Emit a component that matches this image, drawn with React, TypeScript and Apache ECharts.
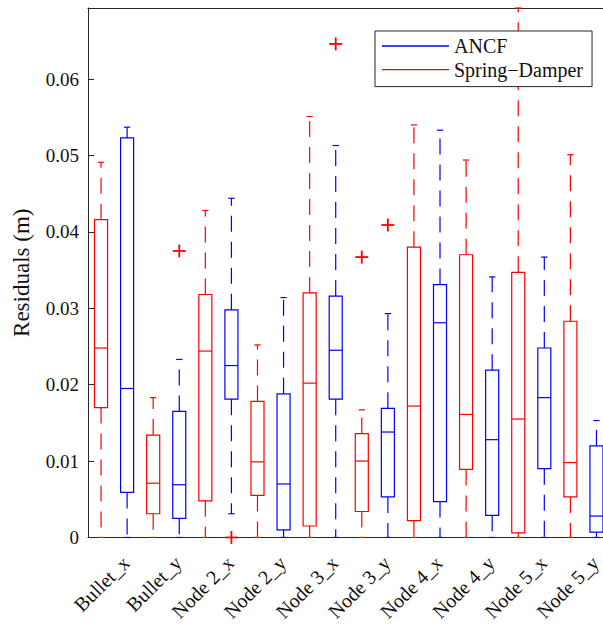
import React, { useEffect, useRef } from "react";
import * as echarts from "echarts";

// Residual distributions per tracked coordinate
const categories = [
  "Bullet_x",
  "Bullet_y",
  "Node 2_x",
  "Node 2_y",
  "Node 3_x",
  "Node 3_y",
  "Node 4_x",
  "Node 4_y",
  "Node 5_x",
  "Node 5_y",
];

// Box statistics per category: [lower whisker, Q1, median, Q3, upper whisker] (m)
const ancfStats = [
  [0, 0.0059, 0.0195, 0.0523, 0.0537],
  [0, 0.0025, 0.0069, 0.0165, 0.0233],
  [0.0031, 0.0181, 0.0225, 0.0298, 0.0444],
  [0, 0.001, 0.007, 0.0188, 0.0314],
  [0, 0.0181, 0.0245, 0.0316, 0.0513],
  [0, 0.0053, 0.0138, 0.0169, 0.0293],
  [0, 0.0047, 0.0281, 0.0331, 0.0533],
  [0, 0.0029, 0.0128, 0.0219, 0.0341],
  [0, 0.009, 0.0183, 0.0248, 0.0367],
  [0, 0.0007, 0.0028, 0.012, 0.0153],
];

const springDamperStats = [
  [0, 0.017, 0.0248, 0.0416, 0.0491],
  [0, 0.0031, 0.0071, 0.0134, 0.0183],
  [0, 0.0048, 0.0244, 0.0318, 0.0428],
  [0, 0.0055, 0.0099, 0.0178, 0.0252],
  [0, 0.0015, 0.0202, 0.032, 0.0551],
  [0, 0.0034, 0.01, 0.0136, 0.0167],
  [0, 0.0022, 0.0172, 0.038, 0.054],
  [0, 0.0089, 0.0161, 0.037, 0.0494],
  [0, 0.0006, 0.0155, 0.0347, 0.0693],
  [0, 0.0053, 0.0098, 0.0283, 0.0501],
];

// Spring-Damper outliers: [category index, lane (-1 = left box, 1 = right box), value]
const springDamperOutliers = [
  [1, 1, 0.0375],
  [2, 1, 0],
  [4, 1, 0.0646],
  [5, -1, 0.0367],
  [5, 1, 0.0409],
];

const yTicks = { min: 0, max: 0.0693, step: 0.01 };

const BLUE = "#0000ff";
const RED = "#ff0000";
const INK = "#262626";
const FONT = "'Liberation Serif', 'DejaVu Serif', serif";

function boxRenderer(lane: number, color: string) {
  return (_params: any, api: any) => {
    const cat = api.value(0);
    const band = api.size([1, 0])[0];
    const x = api.coord([cat, 0])[0] + lane * band * 0.25;
    const py = (i: number) => api.coord([cat, api.value(i)])[1];
    const yMin = py(1);
    const yQ1 = py(2);
    const yMed = py(3);
    const yQ3 = py(4);
    const yMax = py(5);
    const hw = band * 0.125;
    const cw = band * 0.06;
    const solid = { stroke: color, lineWidth: 1.2, fill: "none" };
    const dashed = { stroke: color, lineWidth: 1.2, fill: "none", lineDash: [16, 10] };
    return {
      type: "group",
      children: [
        { type: "line", shape: { x1: x, y1: yQ3, x2: x, y2: yMax }, style: dashed },
        { type: "line", shape: { x1: x, y1: yQ1, x2: x, y2: yMin }, style: dashed },
        { type: "line", shape: { x1: x - cw, y1: yMax, x2: x + cw, y2: yMax }, style: solid },
        { type: "line", shape: { x1: x - cw, y1: yMin, x2: x + cw, y2: yMin }, style: solid },
        {
          type: "rect",
          shape: { x: x - hw, y: yQ3, width: 2 * hw, height: yQ1 - yQ3 },
          style: solid,
        },
        { type: "line", shape: { x1: x - hw, y1: yMed, x2: x + hw, y2: yMed }, style: solid },
      ],
    };
  };
}

function outlierRenderer(color: string) {
  return (_params: any, api: any) => {
    const cat = api.value(0);
    const lane = api.value(1);
    const band = api.size([1, 0])[0];
    const c = api.coord([cat, api.value(2)]);
    const x = c[0] + lane * band * 0.25;
    const y = c[1];
    const r = 6.5;
    const st = { stroke: color, lineWidth: 1.8 };
    return {
      type: "group",
      children: [
        { type: "line", shape: { x1: x - r, y1: y, x2: x + r, y2: y }, style: st },
        { type: "line", shape: { x1: x, y1: y - r, x2: x, y2: y + r }, style: st },
      ],
    };
  };
}

export default function App() {
  const ref = useRef<HTMLDivElement>(null);

  useEffect(() => {
    if (!ref.current) return;
    const chart = echarts.init(ref.current, null, { renderer: "svg" });

    const fmtY = (v: number) => {
      const k = Math.round(v / yTicks.step);
      if (Math.abs(k * yTicks.step - v) > 1e-9) return "";
      return k === 0 ? "0" : (k * yTicks.step).toFixed(2);
    };

    chart.setOption({
      animation: false,
      backgroundColor: "#ffffff",
      textStyle: { fontFamily: FONT, color: INK },
      // the plot box runs a little past the visible right edge
      grid: { left: 88, top: 8, right: 0.5, bottom: 89.5 },
      legend: {
        orient: "vertical",
        left: 375,
        top: 31,
        padding: [5, 9, 7, 7],
        itemWidth: 67,
        itemHeight: 1.4,
        itemGap: 3.6,
        backgroundColor: "#ffffff",
        borderColor: INK,
        borderWidth: 1,
        borderRadius: 0,
        textStyle: { fontFamily: FONT, fontSize: 20, lineHeight: 20, color: "#111" },
        data: [
          { name: "ANCF", icon: "rect", itemStyle: { color: BLUE } },
          { name: "Spring−Damper", icon: "rect", itemStyle: { color: RED } },
        ],
      },
      xAxis: [
        {
          type: "category",
          data: categories,
          position: "bottom",
          axisLine: { lineStyle: { color: INK, width: 1 } },
          axisTick: { inside: true, length: 6, alignWithLabel: true, lineStyle: { color: INK } },
          axisLabel: {
            interval: 0,
            rotate: 45,
            align: "right",
            verticalAlign: "top",
            lineHeight: 34,
            margin: 10,
            fontSize: 20,
            fontFamily: FONT,
            color: "#111",
          },
          splitLine: { show: false },
        },
        {
          type: "category",
          data: categories,
          position: "top",
          axisLine: { lineStyle: { color: INK, width: 1 } },
          axisTick: { inside: true, length: 6, alignWithLabel: true, lineStyle: { color: INK } },
          axisLabel: { show: false },
          splitLine: { show: false },
        },
      ],
      yAxis: {
        type: "value",
        min: yTicks.min,
        max: yTicks.max,
        interval: yTicks.step,
        name: "Residuals (m)",
        nameLocation: "middle",
        nameRotate: 90,
        nameGap: 55,
        nameTextStyle: { fontFamily: FONT, fontSize: 23, color: "#111" },
        axisLine: { show: true, lineStyle: { color: INK, width: 1 } },
        axisTick: { show: true, inside: true, length: 6, lineStyle: { color: INK } },
        axisLabel: {
          formatter: fmtY,
          showMaxLabel: false,
          margin: 9,
          fontSize: 19,
          fontFamily: FONT,
          color: "#111",
        },
        splitLine: { show: false },
      },
      series: [
        {
          name: "Spring−Damper",
          type: "custom",
          itemStyle: { color: RED },
          encode: { x: 0, y: [1, 2, 3, 4, 5] },
          renderItem: boxRenderer(-1, RED),
          data: springDamperStats.map((s, i) => [i, ...s]),
          z: 3,
        },
        {
          name: "ANCF",
          type: "custom",
          itemStyle: { color: BLUE },
          encode: { x: 0, y: [1, 2, 3, 4, 5] },
          renderItem: boxRenderer(1, BLUE),
          data: ancfStats.map((s, i) => [i, ...s]),
          z: 3,
        },
        {
          name: "Spring−Damper",
          type: "custom",
          itemStyle: { color: RED },
          encode: { x: 0, y: 2 },
          renderItem: outlierRenderer(RED),
          data: springDamperOutliers,
          z: 3,
        },
      ],
    });

    return () => chart.dispose();
  }, []);

  return (
    <div
      style={{
        position: "absolute",
        left: 0,
        top: 0,
        width: 603,
        height: 629,
        overflow: "hidden",
        background: "#fff",
      }}
    >
      <div ref={ref} style={{ width: 610, height: 629 }} />
    </div>
  );
}
